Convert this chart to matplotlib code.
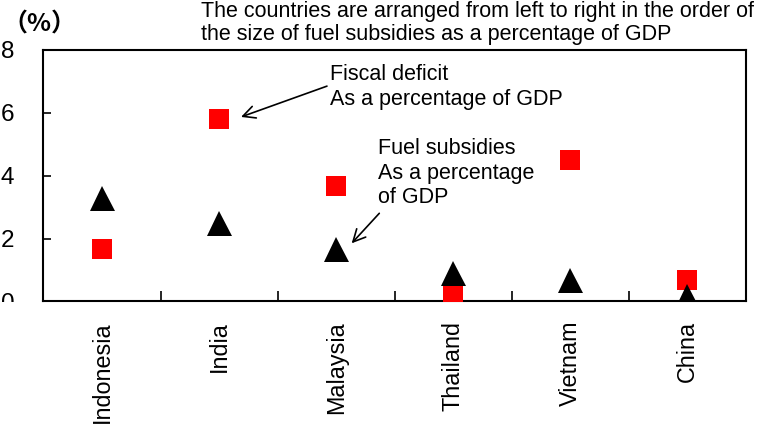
import matplotlib
matplotlib.use('Agg')
import matplotlib.pyplot as plt
from matplotlib.transforms import Bbox, TransformedBbox

# data (percent of GDP)
countries = ['Indonesia', 'India', 'Malaysia', 'Thailand', 'Vietnam', 'China']
fuel_subsidies = [3.30, 2.50, 1.67, 0.92, 0.67, 0.18]
fiscal_deficit = [1.68, 5.80, 3.68, 0.20, 4.49, 0.67]
yticks = [0, 2, 4, 6, 8]

plt.rcParams['font.family'] = ['Liberation Sans', 'DejaVu Sans']

fig = plt.figure(figsize=(7.71, 4.25), dpi=100)
ax = fig.add_axes([0.0564, 0.2906, 0.9112, 0.5918])

x = list(range(len(countries)))
ax.plot(x, fiscal_deficit, 's', color='#FF0000', markersize=15,
        markeredgewidth=0, zorder=3)
ax.plot(x, fuel_subsidies, '^', color='black', markersize=18,
        markeredgewidth=0, zorder=4)

ax.set_xlim(-0.5, len(countries) - 0.5)
ax.set_ylim(0, 8)

# tick marks between categories, labels at the centres
ax.set_xticks([i + 0.5 for i in x[:-1]])
ax.set_xticklabels([])
ax.set_xticks(x, minor=True)
ax.set_xticklabels(countries, minor=True, rotation=90, fontsize=16.8,
                   va='top')
ax.tick_params(axis='x', which='major', direction='in', length=7, width=1.2)
ax.tick_params(axis='x', which='minor', length=0, pad=14)

ax.set_yticks(yticks)
ax.set_yticklabels([str(v) for v in yticks],
                   family=['Liberation Sans Narrow', 'Liberation Sans'],
                   fontsize=17.5)
ax.tick_params(axis='y', direction='in', length=6, width=1.2, pad=21)

for sp in ax.spines.values():
    sp.set_linewidth(1.5)

# the "0" label is cut at the plot floor in the original
clip = TransformedBbox(Bbox([[0, 0.29], [1, 1]]), fig.transFigure)
lab0 = ax.get_yticklabels()[0]
lab0.set_clip_on(True)
lab0.set_clip_box(clip)

fig.text(39 / 771, 1 - 24 / 425, '（%）', family=['Noto Sans CJK JP', 'DejaVu Sans'],
         fontsize=18, fontweight='bold', va='center', ha='center')

fig.text(201 / 771, 1 - 1 / 425,
         'The countries are arranged from left to right in the order of\n'
         'the size of fuel subsidies as a percentage of GDP',
         fontsize=15.5, va='top', ha='left', linespacing=1.1)

ax.text(1.95, 7.55, 'Fiscal deficit\nAs a percentage of GDP',
        fontsize=15.5, va='top', ha='left', linespacing=1.25)
ax.annotate('', xy=(1.187, 5.87), xytext=(1.921, 6.85),
            arrowprops=dict(arrowstyle='->', lw=1.2, color='black',
                            mutation_scale=22, shrinkA=0, shrinkB=0))

ax.text(2.357, 5.2, 'Fuel subsidies\nAs a percentage\nof GDP',
        fontsize=15.5, va='top', ha='left', linespacing=1.22)
ax.annotate('', xy=(2.132, 1.851), xytext=(2.368, 2.805),
            arrowprops=dict(arrowstyle='->', lw=1.2, color='black',
                            mutation_scale=22, shrinkA=0, shrinkB=0))

plt.savefig('out.png', dpi=100)
